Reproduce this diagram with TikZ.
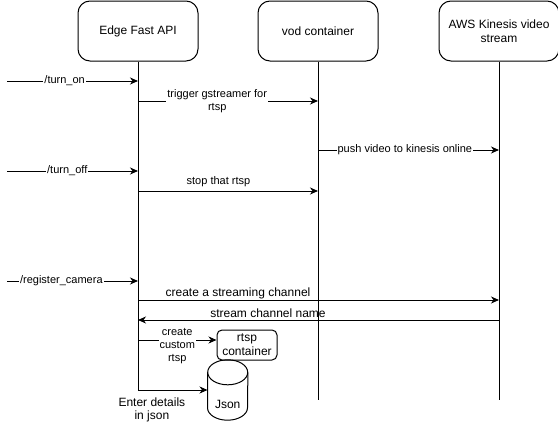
\documentclass[tikz,border=0pt]{standalone}
\usepackage{fontspec}
\setmainfont{Liberation Sans}
\usetikzlibrary{shapes.geometric, arrows.meta, positioning}
\tikzstyle{actor} = [rectangle, rounded corners=12pt, minimum width=120pt, minimum height=60pt, draw=black, line width=1pt, fill=white, align=center, font=\fontsize{12}{14}\selectfont]
\tikzstyle{arrow} = [line width=1pt, -{Stealth[length=8pt,width=7pt,inset=2.5pt]}]
\tikzset{
	life/.style={line width=1pt},
	msg/.style={font=\fontsize{11}{13.3}\selectfont, inner sep=1pt, align=center},
	msgbig/.style={font=\fontsize{12}{13.4}\selectfont, inner sep=1pt, align=center},
	onlabel/.style={msg, fill=white},
	store/.style={minimum width=40pt, minimum height=60pt, inner sep=0pt}
}

\begin{document}
\begin{tikzpicture}[x=1pt, y=-1pt, node distance=59pt]
		\useasboundingbox (0,0) rectangle (558,431);
		
		% Nodes
		\node (edge) [actor] at (138,31) {Edge Fast API};
		\node (vod) [actor, right=59pt of edge] {vod container};
		\node (aws) [actor, right=60pt of vod] {AWS Kinesis video\\stream};
		\node (rtsp) [actor, rounded corners=5pt, minimum width=60pt, minimum height=30pt, inner sep=1pt] at (247,345) {rtsp\\container};
		\node (json) [store] at (227.7,390) {};
		\node [msgbig] at ([yshift=-14pt]json.center) {Json};
		\draw [life] ([yshift=-12.5pt]json.north) ellipse (20pt and 12.5pt);
		\draw [life] ([yshift=-12.5pt]json.north west) -- ([yshift=12.5pt]json.south west) arc (180:360:20pt and 12.5pt) -- ([yshift=-12.5pt]json.north east);
		
		% Lifelines
		\coordinate (edgeEnd) at (edge |- 0,390);
		\coordinate (vodEnd) at (vod |- 0,400);
		\coordinate (awsEnd) at (aws |- 0,400);
		\draw [life] (edge) -- (edgeEnd);
		\draw [life] (vod) -- (vodEnd);
		\draw [life] (aws) -- (awsEnd);
		
		% Incoming calls
		\coordinate (turnonIn) at (7,81);
		\coordinate (turnoffIn) at (7,171);
		\coordinate (registerIn) at (7,281);
		
		% Arrows
		\draw [arrow] (turnonIn) -- node[onlabel, pos=0.44] {/turn\_on} (edge |- turnonIn);
		\draw [arrow] (edge |- 0,101) -- node[onlabel, pos=0.44] {trigger gstreamer for\\rtsp} (vod |- 0,101);
		\draw [arrow] (vod |- 0,150) -- node[onlabel, pos=0.48] {push video to kinesis online} (aws |- 0,150);
		\draw [arrow] (turnoffIn) -- node[onlabel, pos=0.46] {/turn\_off} (edge |- turnoffIn);
		\draw [arrow] (edge |- 0,191) -- node[msg, pos=0.447, yshift=9pt] {stop that rtsp} (vod |- 0,191);
		\draw [arrow] (registerIn) -- node[onlabel, pos=0.415] {/register\_camera} (edge |- registerIn);
		\draw [arrow] (edge |- 0,300) -- node[msgbig, pos=0.277, yshift=7pt] {create a streaming channel} (aws |- 0,300);
		\draw [arrow] (aws |- 0,320) -- node[msgbig, pos=0.64, yshift=7pt] {stream channel name} (edge |- 0,320);
		\draw [arrow] (edge |- 0,340) -- node[onlabel, pos=0.5, yshift=-6pt] {create\\custom\\rtsp} (rtsp.west |- 0,340);
		\draw [arrow] (edgeEnd) -- node[msgbig, pos=0.2, yshift=-20pt] {Enter details\\in json} (json.west);
		
	\end{tikzpicture}
\end{document}
